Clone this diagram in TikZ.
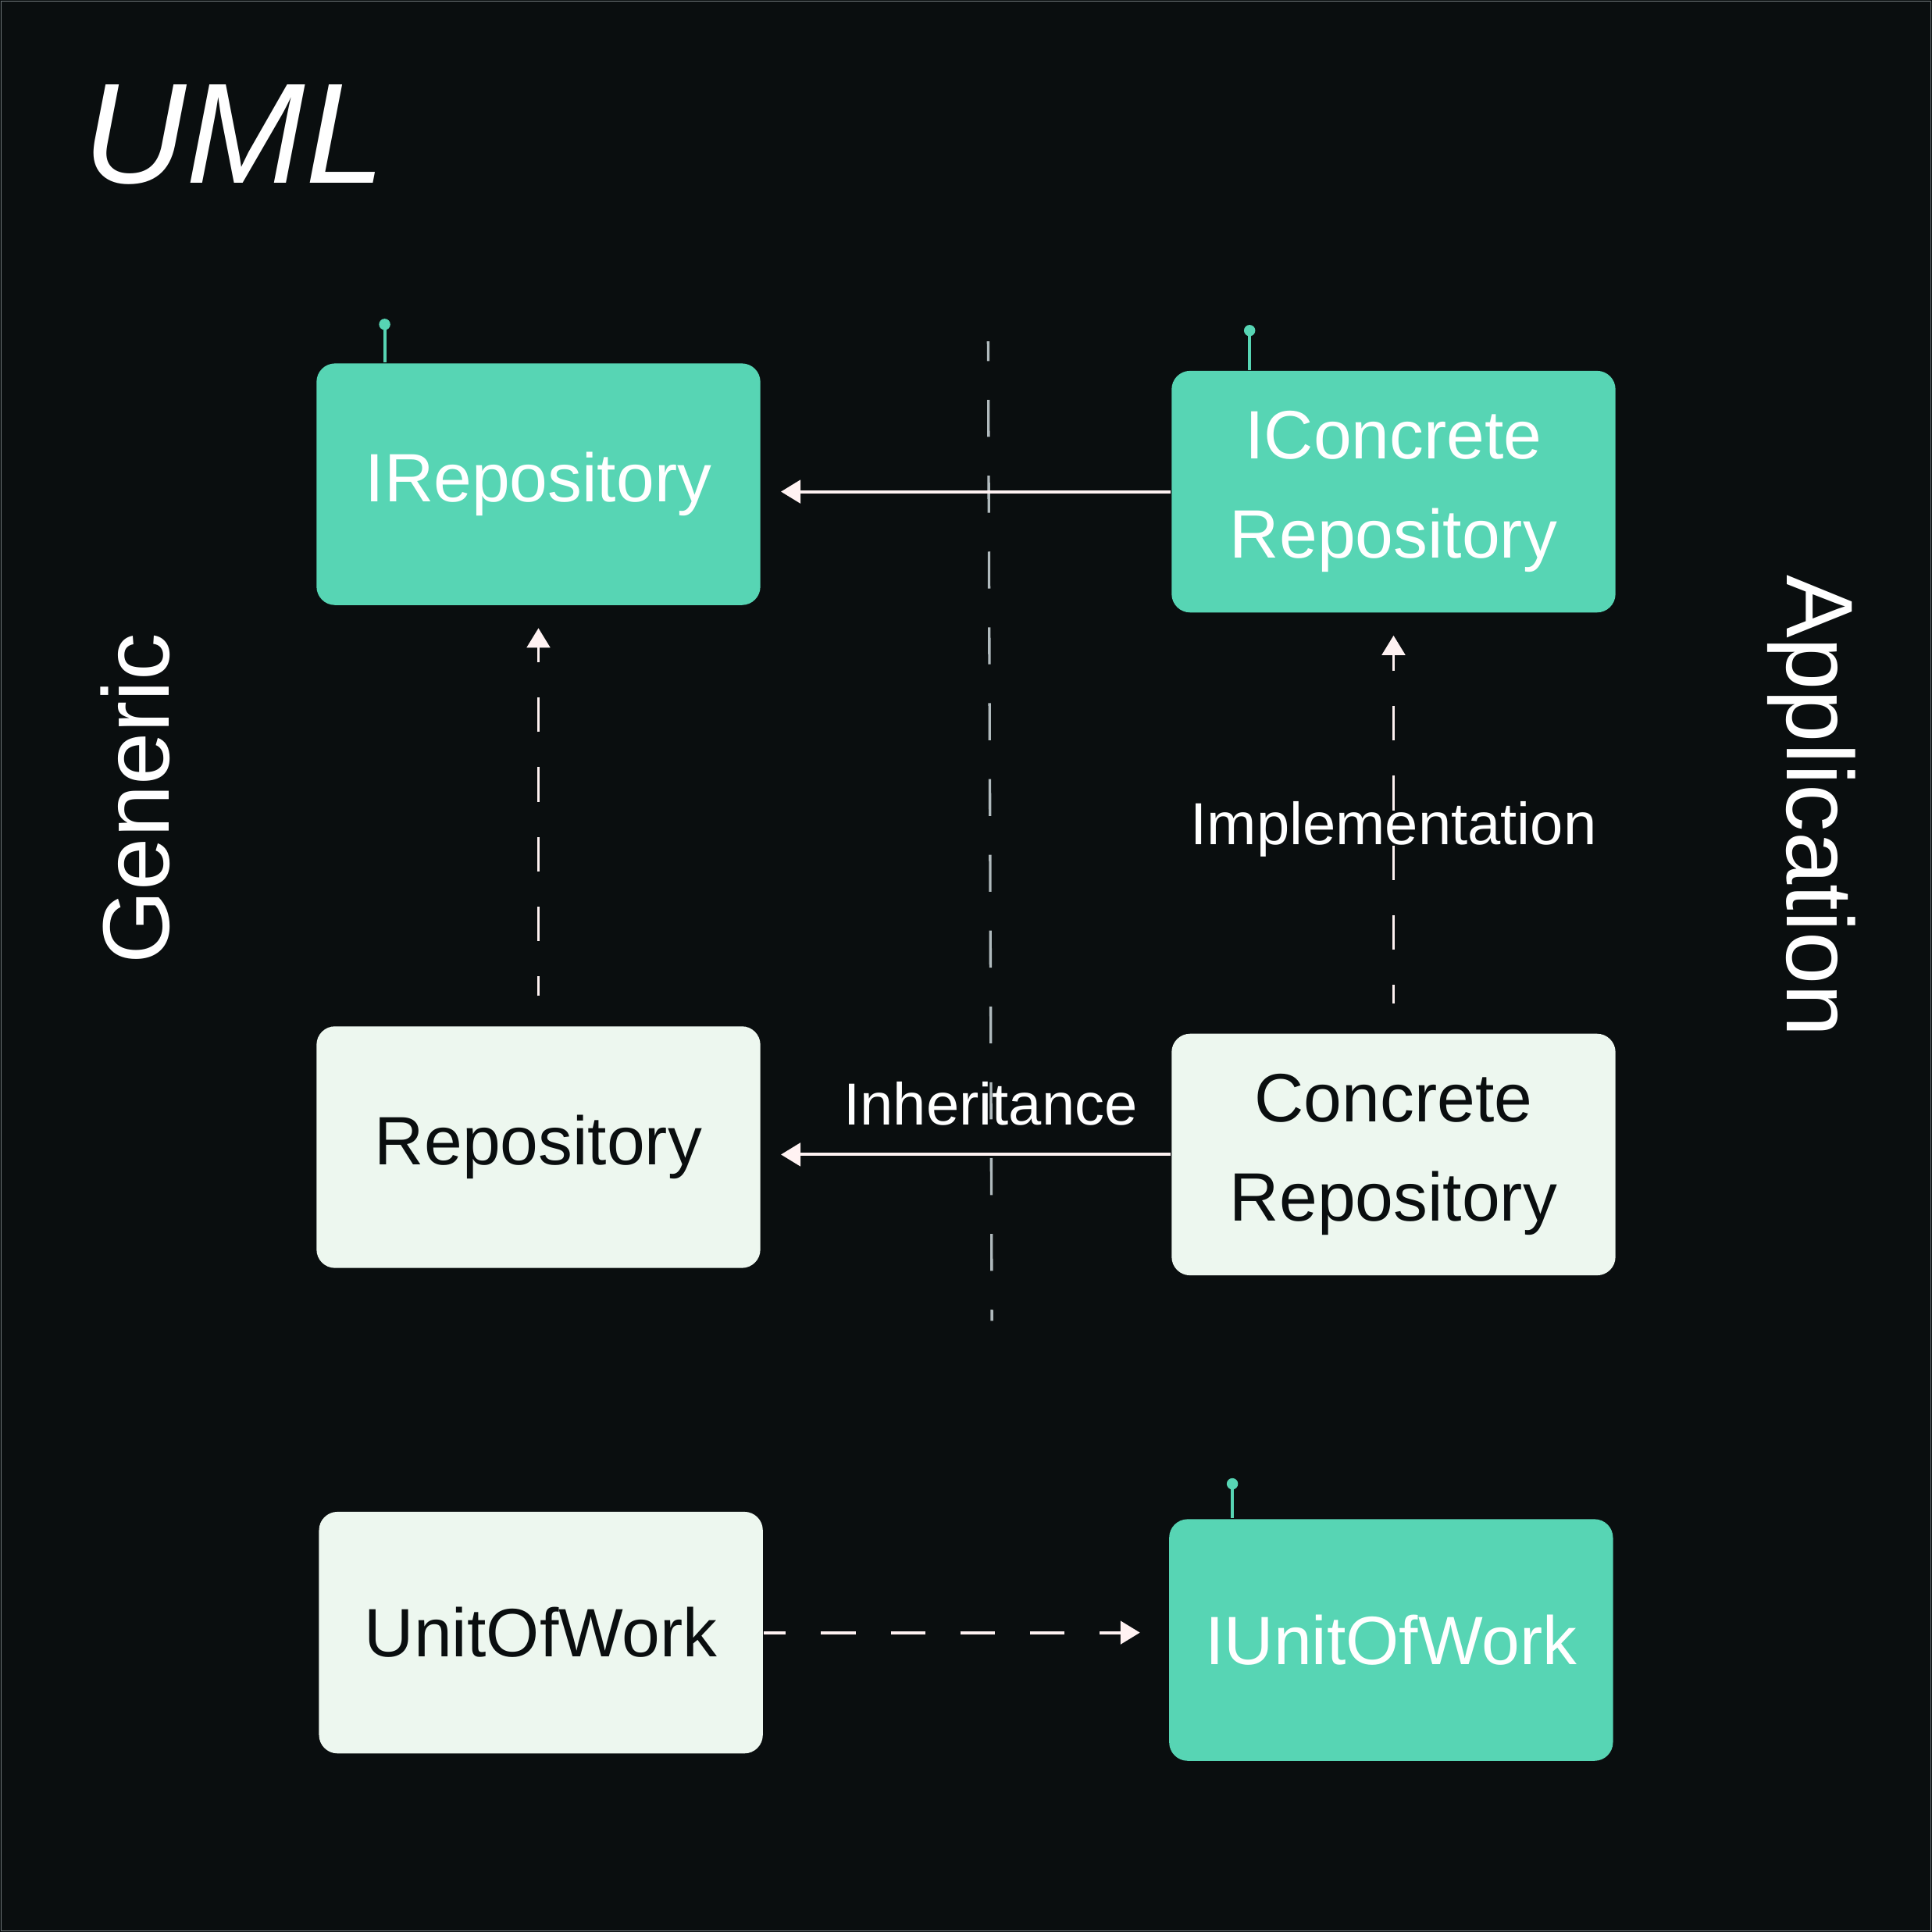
\documentclass[tikz,border=0pt]{standalone}
\usepackage{fontspec}
\setmainfont{Liberation Sans}
\usepackage{tikz}
\usetikzlibrary{calc,arrows.meta}

\definecolor{bgdark}{RGB}{10,14,15}
\definecolor{umlteal}{RGB}{87,213,180}
\definecolor{umllight}{RGB}{237,247,239}
\definecolor{umlline}{RGB}{255,242,242}
\definecolor{umlgrey}{RGB}{176,186,189}
\definecolor{umlrim}{RGB}{110,118,120}

\begin{document}
\begin{tikzpicture}[x=0.01cm,y=-0.01cm,
    box/.style={rounded corners=0.15cm, minimum width=3.6cm, minimum height=1.96cm,
      inner sep=0pt, align=center, font=\fontsize{15.8}{22.8}\selectfont},
    iface/.style={box, fill=umlteal, text=white},
    impl/.style={box, fill=umllight, text=bgdark},
    link/.style={draw=umlline, line width=0.7pt, -{Triangle[length=4.5pt,width=5.3pt]}},
    dashlink/.style={link, dash pattern=on 0.28cm off 0.285cm},
    lbl/.style={text=white, font=\fontsize{13.7}{16}\selectfont},
    side/.style={text=white, font=\fontsize{21.8}{24}\selectfont},
    pin/.style={draw=umlteal, line width=0.7pt}]

  % background
  \fill[bgdark] (0,0) rectangle (1568,1568);
  \draw[umlrim, line width=0.3pt] (1,1) rectangle (1567,1567);
  \useasboundingbox (0,0) rectangle (1568,1568);

  % title and side labels
  \node[text=white, font=\fontsize{33}{36}\selectfont\itshape] (title) at (190,109) {UML};
  \node[side, rotate=90] (generic) at (110,648) {Generic};
  \node[side, rotate=-90] (application) at (1470,654) {Application};

  % divider
  \coordinate (divtop) at (802,277);
  \coordinate (divbot) at (805,1072);
  \draw[umlgrey, line width=0.6pt, dash pattern=on 0.30cm off 0.315cm, dash phase=0.14cm]
    (divtop) -- (divbot);

  % classes
  \node[iface] (irepo) at (437,393) {\raisebox{-1pt}{IRepository}};
  \node[iface] (iconcrete) at (1131,399) {IConcrete\\Repository};
  \node[impl] (repo) at (437,931) {\raisebox{-1pt}{Repository}};
  \node[impl] (concrete) at (1131,937) {Concrete\\Repository};
  \node[impl] (uow) at (439,1325) {UnitOfWork};
  \node[iface] (iuow) at (1129,1331) {IUnitOfWork};

  % interface pins
  \foreach \b/\dx/\len in {irepo/56/31, iconcrete/64/32, iuow/52/28} {
    \draw[pin] ($(\b.north west)+(\dx,0)$) -- ++(0,-\len) coordinate (\b-pin);
    \fill[umlteal] (\b-pin) circle (1.3pt);
  }

  % labels
  \node[lbl] (inh) at (804,896) {Inheritance};
  \node[lbl] (implab) at (1131,673) {Implementation};

  % relations
  \draw[link, shorten >=0.16cm] (iconcrete.west) -- (iconcrete.west -| irepo.east);
  \draw[link, shorten >=0.16cm] (concrete.west) -- (concrete.west -| repo.east);
  \draw[dashlink, dash phase=0.12cm, shorten <=0.24cm, shorten >=0.18cm] (repo.north) -- (irepo.south);
  \draw[dashlink, dash phase=0.13cm, shorten <=0.24cm, shorten >=0.18cm] (concrete.north) -- (iconcrete.south);
  \draw[dashlink, dash phase=0.10cm, shorten >=0.23cm] (uow.east) -- (uow.east -| iuow.west);
\end{tikzpicture}
\end{document}
